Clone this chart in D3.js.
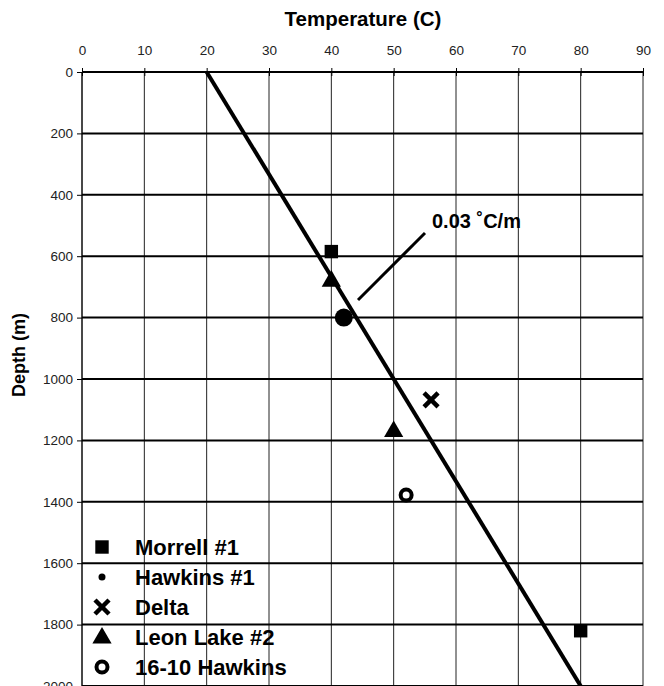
<!DOCTYPE html>
<html>
<head>
<meta charset="utf-8">
<script src="https://cdn.jsdelivr.net/npm/d3@7"></script>
<style>
  body { margin: 0; background: #fff; }
  svg { display: block; font-family: "Liberation Sans", Arial, sans-serif; }
</style>
</head>
<body>
<div id="chart"></div>
<script>
// data
var tempTicks = [0, 10, 20, 30, 40, 50, 60, 70, 80, 90];
var depthTicks = [0, 200, 400, 600, 800, 1000, 1200, 1400, 1600, 1800, 2000];

var morrell = [{ t: 40, d: 585 }, { t: 80, d: 1820 }];
var hawkins1 = [{ t: 42, d: 800 }];
var delta = [{ t: 56, d: 1068 }];
var leonLake = [{ t: 40, d: 678 }, { t: 50, d: 1168 }];
var hawkins1610 = [{ t: 52, d: 1378 }];

// gradient line 0.03 C/m starting at 20 C
var gradLine = [{ t: 20, d: 0 }, { t: 80, d: 2000 }];

var legendNames = ["Morrell #1", "Hawkins #1", "Delta", "Leon Lake #2", "16-10 Hawkins"];

var width = 664, height = 686;

var svg = d3.select("#chart")
  .append("svg")
    .attr("width", width)
    .attr("height", height);

var x = d3.scaleLinear().domain([0, 90]).range([82, 643]);
var y = d3.scaleLinear().domain([0, 2000]).range([72, 686]);

// vertical grid lines
svg.append("g")
  .selectAll("line")
  .data(tempTicks)
  .enter().append("line")
    .attr("x1", d => x(d)).attr("x2", d => x(d))
    .attr("y1", y(0)).attr("y2", y(2000))
    .attr("stroke", "#222")
    .attr("stroke-width", 1);

// horizontal grid lines (heavy)
svg.append("g")
  .selectAll("line")
  .data(depthTicks.slice(1))
  .enter().append("line")
    .attr("x1", x(0)).attr("x2", x(90))
    .attr("y1", d => y(d)).attr("y2", d => y(d))
    .attr("stroke", "#000")
    .attr("stroke-width", 2);

// top axis
var xAxis = svg.append("g")
  .attr("transform", "translate(0," + y(0) + ")")
  .call(d3.axisTop(x).tickValues(tempTicks).tickSize(4).tickPadding(13).tickFormat(d3.format("d")));
xAxis.select(".domain").attr("stroke-width", 2).attr("d", "M" + x(0) + ",0H" + x(90));
xAxis.selectAll(".tick line").attr("y2", 4).attr("y1", -4).attr("stroke-width", 1);
xAxis.selectAll("text").style("font-size", "13.5px").attr("fill", "#222");

// left axis
var yAxis = svg.append("g")
  .attr("transform", "translate(" + x(0) + ",0)")
  .call(d3.axisLeft(y).tickValues(depthTicks).tickSize(5).tickPadding(4).tickFormat(d3.format("d")));
yAxis.select(".domain").attr("d", "M0," + y(0) + "V" + y(2000));
yAxis.selectAll("text").style("font-size", "13.5px").attr("fill", "#222");

// axis titles
svg.append("text")
  .attr("x", 363).attr("y", 26)
  .attr("text-anchor", "middle")
  .style("font-size", "20.5px").style("font-weight", "bold")
  .text("Temperature (C)");

svg.append("text")
  .attr("transform", "translate(25,355) rotate(-90)")
  .attr("text-anchor", "middle")
  .style("font-size", "18px").style("font-weight", "bold")
  .text("Depth (m)");

// gradient line
svg.append("path")
  .datum(gradLine)
  .attr("fill", "none")
  .attr("stroke", "#000")
  .attr("stroke-width", 4)
  .attr("d", d3.line().x(d => x(d.t)).y(d => y(d.d)));

// marker drawing helpers
var shapes = {
  square: d3.symbol().type(d3.symbolSquare).size(180),
  triangle: d3.symbol().type(d3.symbolTriangle).size(160),
  cross: d3.symbol().type(d3.symbolX).size(130)
};

function drawMarker(g, kind, cx, cy, big) {
  if (kind === "square") {
    g.append("path").attr("d", shapes.square()).attr("transform", "translate(" + cx + "," + cy + ")").attr("fill", "#000");
  } else if (kind === "dot") {
    g.append("circle").attr("cx", cx).attr("cy", cy).attr("r", big ? 9 : 3.5).attr("fill", "#000");
  } else if (kind === "cross") {
    g.append("path").attr("d", shapes.cross()).attr("transform", "translate(" + cx + "," + cy + ")")
      .attr("fill", "none").attr("stroke", "#000").attr("stroke-width", 4.5);
  } else if (kind === "triangle") {
    g.append("path").attr("d", shapes.triangle()).attr("transform", "translate(" + cx + "," + (cy + 1) + ")").attr("fill", "#000");
  } else if (kind === "ring") {
    g.append("circle").attr("cx", cx).attr("cy", cy).attr("r", 5.5)
      .attr("fill", "none").attr("stroke", "#000").attr("stroke-width", 4);
  }
}

var series = [
  { data: morrell, kind: "square" },
  { data: hawkins1, kind: "dot" },
  { data: delta, kind: "cross" },
  { data: leonLake, kind: "triangle" },
  { data: hawkins1610, kind: "ring" }
];

var pts = svg.append("g");
series.forEach(function (s) {
  s.data.forEach(function (p) {
    drawMarker(pts, s.kind, x(p.t), y(p.d), true);
  });
});

// annotation
svg.append("line")
  .attr("x1", 358).attr("y1", 300)
  .attr("x2", 425).attr("y2", 233)
  .attr("stroke", "#000").attr("stroke-width", 3);

svg.append("text")
  .attr("x", 432).attr("y", 228)
  .style("font-size", "20px").style("font-weight", "bold")
  .text("0.03 \u02DAC/m");

// legend
var legend = svg.append("g");
series.forEach(function (s, i) {
  var cy = 547 + i * 30;
  var g = legend.append("g");
  drawMarker(g, s.kind, 102, cy, false);
  g.append("text")
    .attr("x", 135).attr("y", cy + 8)
    .style("font-size", "22px").style("font-weight", "bold")
    .text(legendNames[i]);
});
</script>
</body>
</html>
